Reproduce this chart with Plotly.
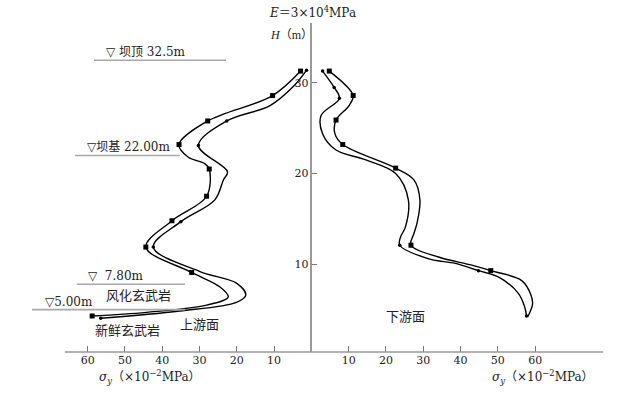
import plotly.graph_objects as go

# ---------------- data (sigma in 1e-2 MPa, H in m) ----------------
# upstream face (left side), outer curve (square markers)
up_out_sigma = [2.9, 10.4, 27.8, 35.5, 33.0, 28.6, 27.4, 28.1, 37.4, 44.4, 32.1, 24.5, 22.3, 28.1, 44.2, 58.8]
up_out_h     = [31.3, 28.6, 25.8, 23.2, 21.8, 21.1, 20.5, 17.5, 14.8, 11.9, 9.1, 7.5, 6.4, 5.5, 4.7, 4.3]
up_out_mk_sigma = [2.9, 10.4, 27.8, 35.5, 27.4, 28.1, 37.4, 44.4, 32.1, 58.8]
up_out_mk_h     = [31.3, 28.6, 25.8, 23.2, 20.5, 17.5, 14.8, 11.9, 9.1, 4.3]

# upstream face, inner curve (dot markers)
up_in_sigma = [1.3, 4.4, 11.1, 22.7, 30.3, 22.5, 23.6, 25.9, 35.0, 42.4, 29.9, 20.0, 17.6, 20.1, 35.3, 56.5]
up_in_h     = [31.4, 29.8, 27.5, 25.8, 23.1, 20.2, 19.3, 17.1, 14.7, 11.9, 9.2, 7.9, 6.6, 5.8, 4.85, 4.05]
up_in_mk_sigma = [1.3, 22.7, 30.3, 35.0, 42.4, 56.5]
up_in_mk_h     = [31.4, 25.8, 23.1, 14.7, 11.9, 4.05]

# downstream face (right side), outer curve (square markers)
dn_out_sigma = [4.8, 11.2, 10.1, 6.6, 6.3, 8.4, 22.6, 27.5, 29.1, 28.3, 27.5, 26.7, 34.1, 43.0, 48.1, 56.4, 58.9, 59.3, 58.0]
dn_out_h     = [31.3, 28.6, 27.5, 25.9, 24.4, 23.2, 20.6, 19.3, 17.1, 14.5, 13.4, 12.1, 10.8, 9.9, 9.3, 8.2, 6.6, 5.6, 4.2]
dn_out_mk_sigma = [4.8, 11.2, 6.6, 8.4, 22.6, 26.7, 48.1]
dn_out_mk_h     = [31.3, 28.6, 25.9, 23.2, 20.6, 12.1, 9.3]

# downstream face, inner curve (dot markers)
dn_in_sigma = [3.0, 6.1, 7.5, 2.6, 3.0, 6.6, 14.6, 22.6, 26.0, 25.2, 23.9, 23.7, 31.5, 38.6, 44.8, 50.1, 55.5, 57.2, 57.7]
dn_in_h     = [31.3, 29.5, 28.3, 26.4, 24.4, 22.6, 21.5, 20.0, 17.1, 14.1, 13.0, 12.1, 10.6, 10.1, 9.3, 8.6, 6.8, 5.3, 4.3]
dn_in_mk_sigma = [3.0, 6.1, 7.5, 23.7, 44.8, 57.7]
dn_in_mk_h     = [31.3, 29.5, 28.3, 12.1, 9.3, 4.3]

# elevation marks
level_h = [32.5, 22.0, 7.8, 5.0]
level_text = ["▽ 坝顶 32.5m", "▽坝基 22.00m", "▽  7.80m", "▽5.00m"]

# tick labels
x_tick_vals = [-60, -50, -40, -30, -20, -10, 10, 20, 30, 40, 50, 60]
x_tick_text = ["60", "50", "40", "30", "20", "10", "10", "20", "30", "40", "50", "60"]
y_tick_vals = [10, 20, 30]

# ---------------- figure ----------------
SERIF = "Liberation Serif, DejaVu Serif, Noto Sans CJK SC, serif"
WIDE = "DejaVu Serif, Noto Sans CJK SC, serif"
XMIN, XMAX = -76.0, 78.2
YMIN, YMAX = 0.33, 36.6

fig = go.Figure()

def curve(sig, h, sign):
    fig.add_trace(go.Scatter(
        x=[sign * s for s in sig], y=h, mode="lines",
        line=dict(color="black", width=1.4, shape="spline", smoothing=1.0),
        hoverinfo="skip", showlegend=False))

def marks(sig, h, sign, symbol, size):
    fig.add_trace(go.Scatter(
        x=[sign * s for s in sig], y=h, mode="markers",
        marker=dict(color="black", symbol=symbol, size=size),
        hoverinfo="skip", showlegend=False))

curve(up_out_sigma, up_out_h, -1)
curve(up_in_sigma, up_in_h, -1)
curve(dn_out_sigma, dn_out_h, 1)
curve(dn_in_sigma, dn_in_h, 1)
marks(up_out_mk_sigma, up_out_mk_h, -1, "square", 5)
marks(up_in_mk_sigma, up_in_mk_h, -1, "circle", 3.5)
marks(dn_out_mk_sigma, dn_out_mk_h, 1, "square", 5)
marks(dn_in_mk_sigma, dn_in_mk_h, 1, "circle", 3.5)

# elevation lines (extent in sigma units on the upstream side)
level_x0 = [-58.3, -63.4, -62.9, -74.9]
level_x1 = [-22.9, -35.3, -33.9, -33.9]
level_tx = [-55.5, -60.7, -60.5, -72.0]
for h, x0, x1, tx, t in zip(level_h, level_x0, level_x1, level_tx, level_text):
    fig.add_shape(type="line", xref="x", yref="y", x0=x0, x1=x1, y0=h, y1=h,
                  line=dict(color="#a8a8a8", width=1.6))
    fig.add_annotation(x=tx, y=h, xref="x", yref="y", text=t, showarrow=False,
                       xanchor="left", yanchor="bottom", yshift=-1,
                       font=dict(family=WIDE, size=12, color="#222"))

# bottom axis line
fig.add_shape(type="line", xref="x", yref="paper", x0=-66.1, x1=XMAX, y0=0, y1=0,
              line=dict(color="#999", width=1.6), layer="above")

# region labels
fig.add_annotation(x=-55.5, y=6.6, text="风化玄武岩", showarrow=False, xanchor="left",
                   font=dict(family=SERIF, size=13, color="#222"))
fig.add_annotation(x=-58.7, y=2.7, text="新鲜玄武岩", showarrow=False, xanchor="left",
                   font=dict(family=SERIF, size=13, color="#222"))
fig.add_annotation(x=-35.8, y=3.4, text="上游面", showarrow=False, xanchor="left",
                   font=dict(family=SERIF, size=13, color="#222"))
fig.add_annotation(x=19.5, y=4.2, text="下游面", showarrow=False, xanchor="left",
                   font=dict(family=SERIF, size=13, color="#222"))

# axis titles
sig_label = "<i>σ</i><sub><i>y</i></sub>（×10<sup>−2</sup>MPa）"
fig.add_annotation(x=-43.4, y=0, yref="paper", yanchor="middle", yshift=-25,
                   text=sig_label, showarrow=False, xref="x",
                   font=dict(family=WIDE, size=12, color="#222"))
fig.add_annotation(x=62.0, y=0, yref="paper", yanchor="middle", yshift=-25,
                   text=sig_label, showarrow=False, xref="x",
                   font=dict(family=WIDE, size=12, color="#222"))
fig.add_annotation(x=-5.3, y=35.3, text="<i>H</i>（m）", showarrow=False, xref="x", yref="y",
                   font=dict(family=SERIF, size=12, color="#222"))
fig.add_annotation(x=0.3, y=1, yref="paper", yanchor="middle", yshift=11,
                   text="<i>E</i>＝3×10<sup>4</sup>MPa", showarrow=False,
                   xref="x", font=dict(family=WIDE, size=12, color="#222"))

fig.update_layout(
    width=633, height=397,
    margin=dict(l=28, r=30, t=23, b=45),
    paper_bgcolor="white", plot_bgcolor="white",
    showlegend=False,
    xaxis=dict(range=[XMIN, XMAX], showgrid=False, zeroline=False, showline=False,
               tickmode="array", tickvals=x_tick_vals, ticktext=x_tick_text,
               ticks="inside", ticklen=6, tickcolor="#777", tickwidth=1,
               tickfont=dict(family=WIDE, size=11, color="#222")),
    yaxis=dict(range=[YMIN, YMAX], showgrid=False, zeroline=False, showline=True,
               linecolor="#999", linewidth=1.6,
               anchor="free", position=(0 - XMIN) / (XMAX - XMIN),
               tickmode="array", tickvals=y_tick_vals,
               ticks="inside", ticklen=5, tickcolor="#777", tickwidth=1,
               tickfont=dict(family=WIDE, size=11, color="#222")),
)

fig.write_html("out.html", config={"displayModeBar": False},
               post_script="document.body.style.margin='0';")
